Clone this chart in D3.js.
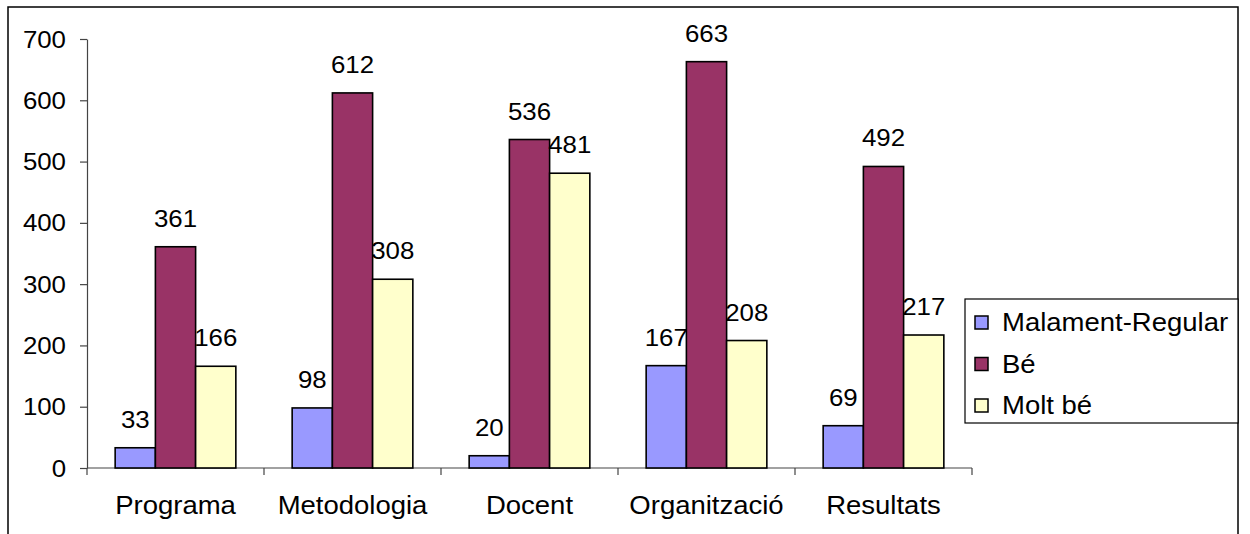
<!DOCTYPE html>
<html>
<head>
<meta charset="utf-8">
<script src="https://cdn.jsdelivr.net/npm/d3@7"></script>
<style>
  body { margin: 0; background: #fff; }
  text { font-family: "Liberation Sans", Arial, sans-serif; fill: #000; }
</style>
</head>
<body>
<svg id="chart" width="1250" height="534"></svg>
<script>
// data
const categories = ['Programa', 'Metodologia', 'Docent', 'Organització', 'Resultats'];
const seriesNames = ['Malament-Regular', 'Bé', 'Molt bé'];
const malament = [33, 98, 20, 167, 69];
const be = [361, 612, 536, 663, 492];
const moltBe = [166, 308, 481, 208, 217];
const yTicks = [0, 100, 200, 300, 400, 500, 600, 700];
const colors = ['#9999FF', '#993366', '#FFFFCC'];

const series = [malament, be, moltBe];
const stretch = 1.1; // old excel text is a bit wider than arial

const svg = d3.select('#chart');

// outer frame of the chart area
svg.append('rect')
  .attr('x', 8).attr('y', 7)
  .attr('width', 1230).attr('height', 560)
  .attr('fill', 'none').attr('stroke', '#000').attr('stroke-width', 1.5);

const plotLeft = 87, plotRight = 972, plotTop = 39, plotBottom = 468;

const x = d3.scaleBand().domain(categories).range([plotLeft, plotRight]);
const xs = d3.scaleBand().domain(d3.range(3))
  .range([0, x.bandwidth()]).paddingOuter(0.7).paddingInner(0);
const y = d3.scaleLinear().domain([0, 700]).range([plotBottom, plotTop]);

function stretchedText(sel, tx, ty, str, size, anchor) {
  const g = sel.append('g').attr('transform', `translate(${tx},${ty}) scale(${stretch},1)`);
  g.append('text').attr('text-anchor', anchor || 'middle')
    .attr('font-size', size).text(str);
  return g;
}

// y axis
const yAxis = svg.append('g').attr('transform', `translate(${plotLeft},0)`)
  .call(d3.axisLeft(y).tickValues(yTicks).tickSize(7).tickSizeOuter(0).tickFormat(''));
yAxis.select('.domain').attr('stroke', '#444').attr('stroke-width', 1.2);
yAxis.selectAll('.tick line').attr('stroke', '#444').attr('stroke-width', 1.2);
yTicks.forEach(v => stretchedText(svg, 66, y(v) + 8.5, String(v), 23.5, 'end'));

// x axis, ticks at the category borders
const xAxis = svg.append('g').attr('transform', `translate(0,${plotBottom})`);
xAxis.append('line').attr('x1', plotLeft).attr('x2', plotRight)
  .attr('stroke', '#444').attr('stroke-width', 1.2);
xAxis.selectAll('line.tk')
  .data(d3.range(categories.length + 1))
  .join('line').attr('class', 'tk')
  .attr('x1', i => plotLeft + i * x.step()).attr('x2', i => plotLeft + i * x.step())
  .attr('y1', 0).attr('y2', 7)
  .attr('stroke', '#444').attr('stroke-width', 1.2);
categories.forEach(c => stretchedText(svg, x(c) + x.bandwidth() / 2, 514, c, 25));

// bars
series.forEach((vals, si) => {
  svg.append('g').selectAll('rect')
    .data(vals)
    .join('rect')
    .attr('x', (d, i) => x(categories[i]) + xs(si))
    .attr('width', xs.bandwidth())
    .attr('y', d => y(d))
    .attr('height', d => plotBottom - y(d))
    .attr('fill', colors[si])
    .attr('stroke', '#000').attr('stroke-width', 1.6);

  vals.forEach((d, i) => {
    stretchedText(svg, x(categories[i]) + xs(si) + xs.bandwidth() / 2, y(d) - 20, String(d), 23.5);
  });
});

// legend
const lg = svg.append('g');
lg.append('rect').attr('x', 965).attr('y', 299).attr('width', 273).attr('height', 124)
  .attr('fill', '#fff').attr('stroke', '#000').attr('stroke-width', 1.2);
seriesNames.forEach((name, i) => {
  const cy = 322 + i * 41.5;
  lg.append('rect').attr('x', 975).attr('y', cy - 6).attr('width', 13).attr('height', 13)
    .attr('fill', colors[i]).attr('stroke', '#000').attr('stroke-width', 1.5);
  stretchedText(lg, 1002, cy + 9, name, 25, 'start');
});
</script>
</body>
</html>
